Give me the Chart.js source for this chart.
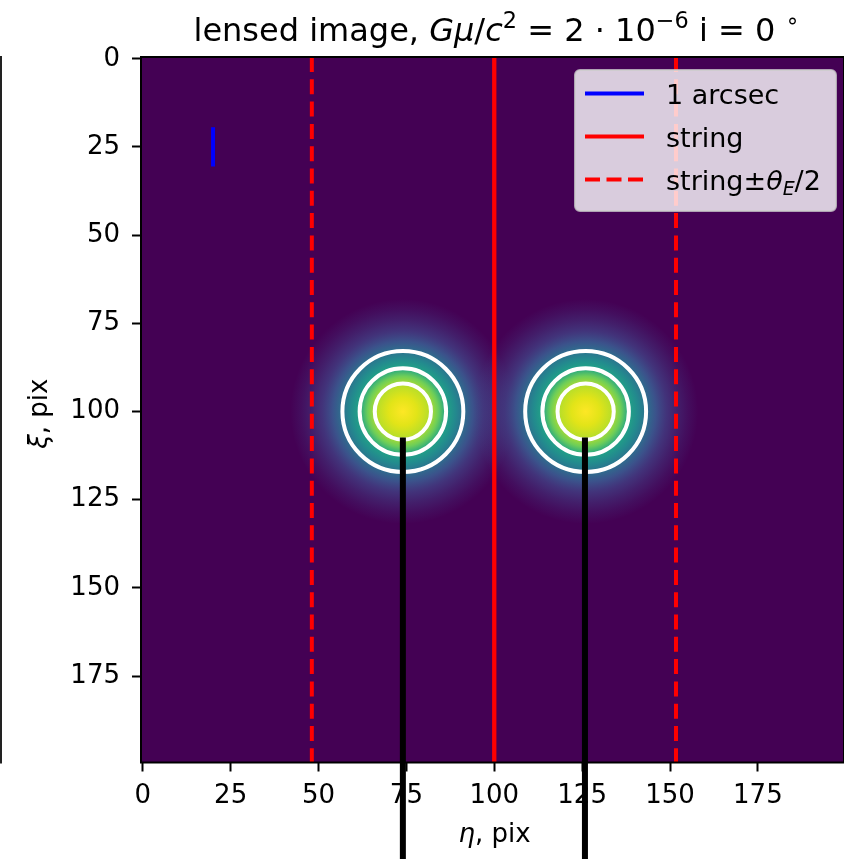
<!DOCTYPE html>
<html>
<head>
<meta charset="utf-8">
<title>lensed image</title>
<script src="https://cdn.jsdelivr.net/npm/chart.js@4.4.1/dist/chart.umd.min.js"></script>
<style>
  html, body { margin: 0; padding: 0; background: #ffffff; }
  #wrap { width: 844px; height: 859px; }
</style>
</head>
<body>
<div id="wrap"><canvas id="lens-chart" width="844" height="859"></canvas></div>
<script>
// --- data (units: pix) ---
const xTicks = [0, 25, 50, 75, 100, 125, 150, 175];
const yTicks = [0, 25, 50, 75, 100, 125, 150, 175];
const imageMin = -0.5;
const imageMax = 199.5;

// the two lensed images
const blobX = [74, 126];
const blobY = [100, 100];
const blobExtent = 32;              // radius where the glow has faded out
const contourRadii = [8, 12.3, 17.2];

// black markers below each image (run off the bottom of the axes)
const rayX = [74, 125.8];
const rayY = [107.4, 232];

// string and Einstein band
const stringX = 100;
const bandX = [48.1, 151.7];
const lineY = [-0.5, 199.5];

// 1 arcsec scale bar
const arcsecX = 20;
const arcsecY = [20, 30];

const legendLabels = ['1 arcsec', 'string', 'string\u00b1\u03b8E/2'];

// --- styling ---
const FONT = '"DejaVu Sans"';
const BG = '#440154';
// viridis along the radius of a blob (fraction of blobExtent); the tail is
// translucent so that the two glows add up where they meet
const glowStops = [
    [0.000, '#fde725'], [0.125, '#e2e418'], [0.234, '#b8de29'], [0.313, '#6ece58'],
    [0.384, '#20a386'], [0.469, '#23898e'], [0.538, '#2d708e'], [0.625, '#3b528b'],
    [0.719, 'rgba(65,68,135,0.75)'], [0.813, 'rgba(65,68,135,0.45)'],
    [0.906, 'rgba(65,68,135,0.2)'], [1.000, 'rgba(65,68,135,0)']
];

function pxLen(chart, r) {
    const s = chart.scales.x;
    if (!s) return 0;
    const d = Math.abs(s.getPixelForValue(r) - s.getPixelForValue(0));
    return isFinite(d) ? d : 0;
}

function pts(xs, ys) {
    return xs.map((x, i) => ({ x: x, y: ys[i] }));
}

function vline(x, ys) {
    return ys.map(y => ({ x: x, y: y }));
}

// draw a string made of plain / italic / sup / sub parts
function drawRich(ctx, parts, x, y, size, align) {
    let total = 0;
    const items = parts.map(p => {
        const s = (p.sup || p.sub) ? size * 0.7 : size;
        const font = (p.it ? 'italic ' : '') + s + 'px ' + FONT;
        ctx.font = font;
        const w = ctx.measureText(p.t).width;
        total += w;
        return { t: p.t, font: font, w: w, dy: p.sup ? -size * 0.42 : (p.sub ? size * 0.22 : 0) };
    });
    let cx = align === 'center' ? x - total / 2 : x;
    ctx.textAlign = 'left';
    ctx.textBaseline = 'alphabetic';
    items.forEach(it => {
        ctx.font = it.font;
        ctx.fillText(it.t, cx, y + it.dy);
        cx += it.w;
    });
}

const frameAndText = {
    id: 'frameAndText',
    beforeDraw(chart) {
        const { ctx, chartArea: a } = chart;
        ctx.save();
        ctx.fillStyle = BG;
        ctx.fillRect(a.left, a.top, a.right - a.left, a.bottom - a.top);
        // stray spine of the neighbouring panel
        ctx.strokeStyle = '#222';
        ctx.lineWidth = 2;
        ctx.beginPath();
        ctx.moveTo(1, a.top - 1);
        ctx.lineTo(1, a.bottom + 1);
        ctx.stroke();
        ctx.restore();
    },
    afterDatasetsDraw(chart) {
        const { ctx, chartArea: a } = chart;
        ctx.save();
        ctx.strokeStyle = '#000';
        ctx.lineWidth = 2;
        ctx.strokeRect(a.left, a.top, a.right - a.left, a.bottom - a.top);
        ctx.restore();
    },
    afterDraw(chart) {
        const { ctx, chartArea: a } = chart;
        const midX = (a.left + a.right) / 2;
        const midY = (a.top + a.bottom) / 2;
        ctx.save();
        ctx.fillStyle = '#000';
        // title
        drawRich(ctx, [
            { t: 'lensed image, ' }, { t: 'G\u03bc', it: true }, { t: '/' }, { t: 'c', it: true },
            { t: '2', sup: true }, { t: ' = 2 \u00b7 10' }, { t: '\u22126', sup: true },
            { t: ' i = 0 ' }, { t: '\u2218', sup: true }
        ], midX + 4, 41, 32, 'center');
        // axis labels
        drawRich(ctx, [{ t: '\u03b7', it: true }, { t: ', pix' }], midX + 2, 842, 26, 'center');
        ctx.translate(47, midY + 4);
        ctx.rotate(-Math.PI / 2);
        drawRich(ctx, [{ t: '\u03be', it: true }, { t: ', pix' }], 0, 0, 26, 'center');
        ctx.restore();

        // legend
        ctx.save();
        const bx = 575, by = 70, bw = 261, bh = 141, r = 5;
        ctx.beginPath();
        ctx.moveTo(bx + r, by);
        ctx.arcTo(bx + bw, by, bx + bw, by + bh, r);
        ctx.arcTo(bx + bw, by + bh, bx, by + bh, r);
        ctx.arcTo(bx, by + bh, bx, by, r);
        ctx.arcTo(bx, by, bx + bw, by, r);
        ctx.closePath();
        ctx.fillStyle = 'rgba(255,255,255,0.8)';
        ctx.fill();
        ctx.strokeStyle = 'rgba(204,204,204,0.8)';
        ctx.lineWidth = 2;
        ctx.stroke();

        const rows = [93.5, 136.5, 179.5];
        const handles = [
            { color: 'blue', dash: [] },
            { color: 'red', dash: [] },
            { color: 'red', dash: [15, 6.5] }
        ];
        handles.forEach((h, i) => {
            ctx.strokeStyle = h.color;
            ctx.lineWidth = 4;
            ctx.setLineDash(h.dash);
            ctx.beginPath();
            ctx.moveTo(585, rows[i]);
            ctx.lineTo(644, rows[i]);
            ctx.stroke();
        });
        ctx.setLineDash([]);
        ctx.fillStyle = '#000';
        drawRich(ctx, [{ t: legendLabels[0] }], 666, rows[0] + 10, 27, 'left');
        drawRich(ctx, [{ t: legendLabels[1] }], 666, rows[1] + 10, 27, 'left');
        const lab = legendLabels[2];
        drawRich(ctx, [
            { t: lab.slice(0, 7) }, { t: lab.charAt(7), it: true },
            { t: lab.charAt(8), it: true, sub: true }, { t: lab.slice(9) }
        ], 666, rows[2] + 10, 27, 'left');
        ctx.restore();
    }
};

const lineStyle = { showLine: true, pointRadius: 0, borderCapStyle: 'butt', fill: false };

const datasets = [
    // arcsec bar on top of everything
    Object.assign({ label: legendLabels[0], data: vline(arcsecX, arcsecY), borderColor: 'blue',
        borderWidth: 4, order: 1 }, lineStyle, { borderCapStyle: 'square' }),
    Object.assign({ label: legendLabels[1], data: vline(stringX, lineY), borderColor: 'red',
        borderWidth: 4.3, order: 2 }, lineStyle),
    Object.assign({ label: legendLabels[2], data: vline(bandX[0], lineY), borderColor: 'red',
        borderWidth: 4, borderDash: [15, 7.3], order: 2 }, lineStyle),
    Object.assign({ label: legendLabels[2] + ' ', data: vline(bandX[1], lineY), borderColor: 'red',
        borderWidth: 4, borderDash: [15, 7.3], order: 2 }, lineStyle),
    Object.assign({ label: 'ray 1', data: vline(rayX[0], rayY), borderColor: '#000',
        borderWidth: 6, clip: false, order: 3 }, lineStyle),
    Object.assign({ label: 'ray 2', data: vline(rayX[1], rayY), borderColor: '#000',
        borderWidth: 6, clip: false, order: 3 }, lineStyle)
];

// contour rings
contourRadii.forEach((rad, k) => {
    datasets.push({
        label: 'contour ' + k,
        data: pts(blobX, blobY),
        showLine: false,
        pointStyle: 'circle',
        pointRadius: ctx => pxLen(ctx.chart, rad),
        pointBackgroundColor: 'rgba(0,0,0,0)',
        pointBorderColor: '#ffffff',
        pointBorderWidth: 4,
        order: 4
    });
});

// the lensed images themselves
datasets.push({
    label: 'image',
    data: pts(blobX, blobY),
    showLine: false,
    pointStyle: 'circle',
    pointRadius: ctx => pxLen(ctx.chart, blobExtent),
    pointBorderWidth: 0,
    pointBackgroundColor: ctx => {
        if (!ctx.raw) return 'rgba(0,0,0,0)';
        const c = ctx.chart;
        const px = c.scales.x.getPixelForValue(ctx.raw.x);
        const py = c.scales.y.getPixelForValue(ctx.raw.y);
        const rad = pxLen(c, blobExtent);
        if (!isFinite(px) || !isFinite(py) || !(rad > 0)) return 'rgba(0,0,0,0)';
        const g = c.ctx.createRadialGradient(px, py, 0, px, py, rad);
        glowStops.forEach(s => g.addColorStop(s[0], s[1]));
        return g;
    },
    order: 5
});

const tickFont = { family: 'DejaVu Sans', size: 26 };

new Chart(document.getElementById('lens-chart'), {
    type: 'scatter',
    data: { datasets: datasets },
    options: {
        responsive: false,
        devicePixelRatio: 1,
        animation: false,
        events: [],
        layout: { padding: { top: 57, left: 0, right: 0, bottom: 0 } },
        plugins: {
            legend: { display: false },
            tooltip: { enabled: false },
            title: { display: false }
        },
        scales: {
            x: {
                type: 'linear',
                min: imageMin,
                max: imageMax,
                afterBuildTicks: s => { s.ticks = xTicks.map(v => ({ value: v })); },
                afterFit: s => { s.height = 96.5; },
                grid: { drawOnChartArea: false, drawTicks: true, tickLength: 9, tickColor: '#000', tickWidth: 2 },
                border: { display: false },
                ticks: { color: '#000', font: tickFont, padding: 9, maxRotation: 0, autoSkip: false }
            },
            y: {
                type: 'linear',
                reverse: true,
                min: imageMin,
                max: imageMax,
                afterBuildTicks: s => { s.ticks = yTicks.map(v => ({ value: v })); },
                afterFit: s => { s.width = 141; },
                grid: { drawOnChartArea: false, drawTicks: true, tickLength: 9, tickColor: '#000', tickWidth: 2 },
                border: { display: false },
                ticks: { color: '#000', font: tickFont, padding: 12, autoSkip: false }
            }
        }
    },
    plugins: [frameAndText]
});
</script>
</body>
</html>
